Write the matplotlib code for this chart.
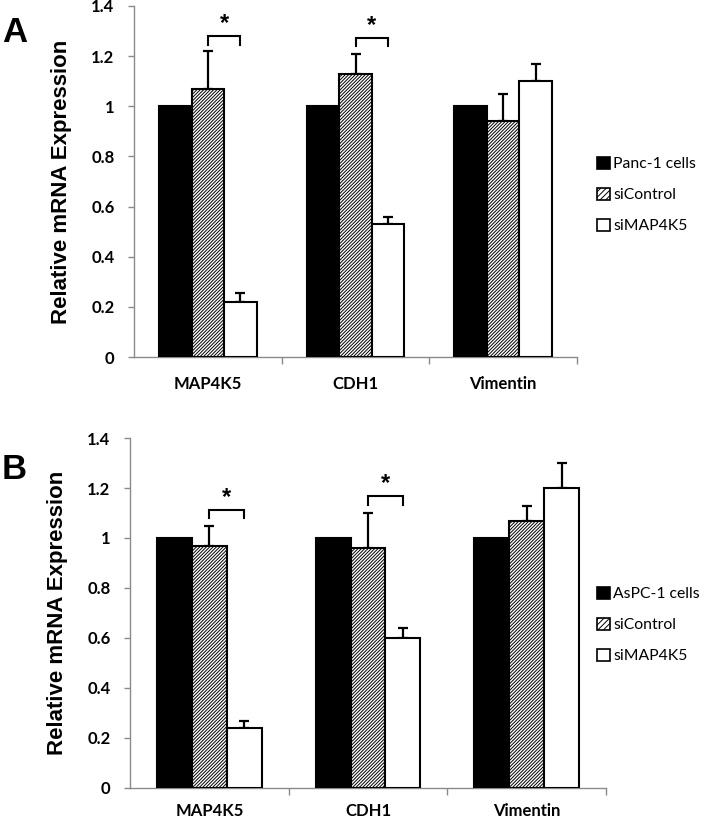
import matplotlib
matplotlib.use("Agg")
import matplotlib.pyplot as plt
from matplotlib.patches import Patch
from matplotlib.ticker import FixedLocator

categories = ["MAP4K5", "CDH1", "Vimentin"]
yticks = [0, 0.2, 0.4, 0.6, 0.8, 1.0, 1.2, 1.4]
ytick_labels = ["0", "0.2", "0.4", "0.6", "0.8", "1", "1.2", "1.4"]

# Panel A (Panc-1)
a_cells = [1.0, 1.0, 1.0]
a_sicontrol = [1.07, 1.13, 0.94]
a_sicontrol_err = [0.15, 0.08, 0.11]
a_simap4k5 = [0.22, 0.53, 1.10]
a_simap4k5_err = [0.035, 0.03, 0.07]
a_sig_cats = [0, 1]
a_sig_top = [1.28, 1.272]
a_sig_leg = [1.244, 1.24]
a_legend = ["Panc-1 cells", "siControl", "siMAP4K5"]

# Panel B (AsPC-1)
b_cells = [1.0, 1.0, 1.0]
b_sicontrol = [0.97, 0.96, 1.07]
b_sicontrol_err = [0.08, 0.14, 0.06]
b_simap4k5 = [0.24, 0.60, 1.20]
b_simap4k5_err = [0.03, 0.04, 0.10]
b_sig_cats = [0, 1]
b_sig_top = [1.112, 1.168]
b_sig_leg = [1.079, 1.131]
b_legend = ["AsPC-1 cells", "siControl", "siMAP4K5"]

plt.rcParams['hatch.linewidth'] = 0.7

W, H = 704, 819
fig = plt.figure(figsize=(W / 100, H / 100), dpi=100)

TICK_FONT = dict(family=["Lato", "DejaVu Sans"], weight="bold", size=12)
AXIS_GRAY = "#8a8a8a"
BW = 0.22


def panel(rect, cells, sic, sic_err, sim, sim_err, sig_cats, sig_top, sig_leg,
          legend_labels, legend_y, letter, letter_xy, xpad):
    ax = fig.add_axes(rect)
    x = list(range(len(categories)))
    xs0 = [v - BW for v in x]
    xs1 = x
    xs2 = [v + BW for v in x]
    ax.bar(xs0, cells, width=BW, color="black", edgecolor="black", linewidth=1.5, zorder=3)
    ax.bar(xs1, sic, width=BW, color="white", edgecolor="black", hatch="//////////",
           linewidth=1.5, zorder=3)
    ax.bar(xs2, sim, width=BW, color="white", edgecolor="black", linewidth=1.5, zorder=3)
    ax.errorbar(xs1, sic, yerr=[[0] * len(sic), sic_err], fmt="none", ecolor="black",
                elinewidth=1.6, capsize=3.5, capthick=1.6, zorder=2)
    ax.errorbar(xs2, sim, yerr=[[0] * len(sim), sim_err], fmt="none", ecolor="black",
                elinewidth=1.6, capsize=3.5, capthick=1.6, zorder=2)
    for c, top, leg in zip(sig_cats, sig_top, sig_leg):
        xa, xb = xs1[c], xs2[c]
        ax.plot([xa, xa, xb, xb], [leg, top, top, leg], color="black", lw=1.5,
                solid_joinstyle="miter", zorder=4, clip_on=False)
        ax.text((xa + xb) / 2, top + 0.003, "*", ha="center", va="bottom",
                fontsize=17, fontweight="bold", family=["Liberation Sans"], zorder=4)

    ax.set_xlim(-0.5, len(categories) - 0.5)
    ax.set_ylim(0, 1.4)
    for s in ["top", "right"]:
        ax.spines[s].set_visible(False)
    for s in ["left", "bottom"]:
        ax.spines[s].set_color(AXIS_GRAY)
        ax.spines[s].set_linewidth(1.0)
    ax.set_yticks(yticks)
    ax.set_yticklabels(ytick_labels, **TICK_FONT)
    ax.tick_params(axis="y", direction="out", length=4, color=AXIS_GRAY, width=1.0, pad=10)
    ax.set_xticks(x)
    ax.set_xticklabels(categories, **TICK_FONT)
    ax.tick_params(axis="x", which="major", length=0, pad=xpad)
    ax.xaxis.set_minor_locator(FixedLocator([0.5, 1.5, 2.5]))
    ax.tick_params(axis="x", which="minor", direction="out", length=5, color=AXIS_GRAY, width=1.0)
    ax.set_ylabel("Relative mRNA Expression", fontsize=16, fontweight="bold",
                  family=["Liberation Sans"], labelpad=14)

    handles = [Patch(facecolor="black", edgecolor="black", linewidth=1.2),
               Patch(facecolor="white", edgecolor="black", hatch="//////", linewidth=1.2),
               Patch(facecolor="white", edgecolor="black", linewidth=1.2)]
    fig.legend(handles, legend_labels, loc="center left",
               bbox_to_anchor=(597 / W, 1 - legend_y / H), frameon=False,
               prop=dict(family=["Lato", "DejaVu Sans"], size=11.3),
               handlelength=0.8, handleheight=0.8, handletextpad=0.25,
               labelspacing=1.05, borderpad=0, borderaxespad=0)
    fig.text(letter_xy[0] / W, 1 - letter_xy[1] / H, letter, fontsize=25, fontweight="bold",
             family=["Liberation Sans"], ha="center", va="center")
    return ax


panel([134 / W, 1 - 357 / H, (577 - 134) / W, (357 - 6) / H],
      a_cells, a_sicontrol, a_sicontrol_err, a_simap4k5, a_simap4k5_err,
      a_sig_cats, a_sig_top, a_sig_leg, a_legend, 195, "A", (15, 32), 14)
panel([130 / W, 1 - 788 / H, (606 - 130) / W, (788 - 438) / H],
      b_cells, b_sicontrol, b_sicontrol_err, b_simap4k5, b_simap4k5_err,
      b_sig_cats, b_sig_top, b_sig_leg, b_legend, 625, "B", (14, 470), 11)

fig.savefig("out.png", dpi=100, facecolor="white")
